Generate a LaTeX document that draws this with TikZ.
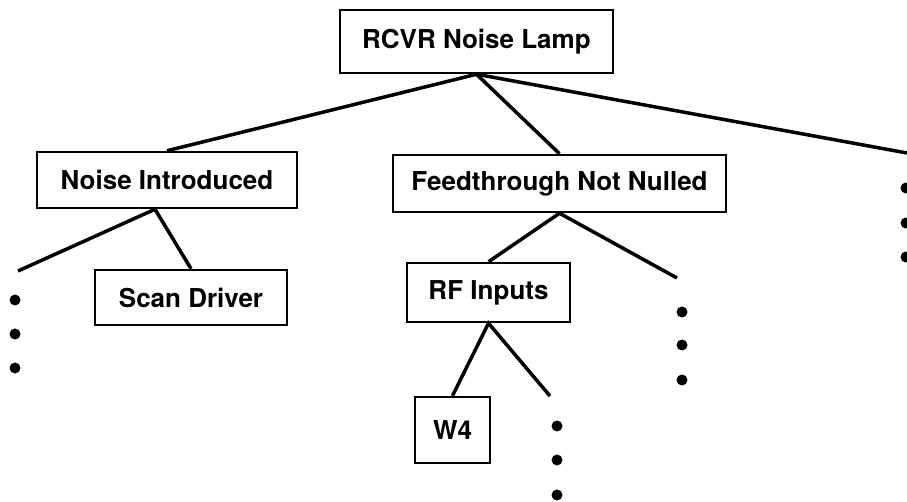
\documentclass[tikz,border=0pt]{standalone}
\usepackage{fontspec}
\setmainfont{TeX Gyre Heros}
\usepackage{tikz}

\tikzset{
  item/.style={draw,line width=2.5pt,inner sep=0pt,font=\fontsize{26}{30}\selectfont\bfseries},
  branch/.style={line width=3.5pt},
  dot/.style={fill=black}
}

\begin{document}
\begin{tikzpicture}[x=1pt,y=-1pt]
\useasboundingbox (0,0) rectangle (907,502);
\node[item,minimum width=273pt,minimum height=63pt] (lamp) at (476.5,41.5) {RCVR Noise Lamp};
\node[item,minimum width=260pt,minimum height=56pt] (noise) at (167,180) {Noise Introduced};
\node[item,minimum width=192pt,minimum height=55pt] (scan) at (191,297.5) {Scan Driver};
\node[item,minimum width=333pt,minimum height=57pt] (feed) at (559.5,183.5) {Feedthrough Not Nulled};
\node[item,minimum width=163pt,minimum height=59pt] (rf) at (488.5,292.5) {RF Inputs};
\node[item,minimum width=75pt,minimum height=66pt] (w4) at (452.5,430) {W4};
\coordinate (lampend) at (907,153);
\coordinate (noiseend) at (18,271);
\coordinate (feedend) at (677,278);
\coordinate (rfend) at (550,396);
\draw[branch] (noise.north) -- (lamp.south) -- (feed.north);
\draw[branch] (lamp.south) -- (lampend);
\draw[branch] (noiseend) -- ([xshift=-12pt]noise.south) -- (scan.north);
\draw[branch] (rf.north) -- (feed.south) -- (feedend);
\draw[branch] (w4.north) -- (rf.south) -- (rfend);
\foreach \x/\y in {906/188,906/223,906/257,15/300,15/334,15/368,682/312,682/345,682/380,557/426,557/460,557/495}
  \fill[dot] (\x,\y) circle (5.5pt);
\end{tikzpicture}
\end{document}
